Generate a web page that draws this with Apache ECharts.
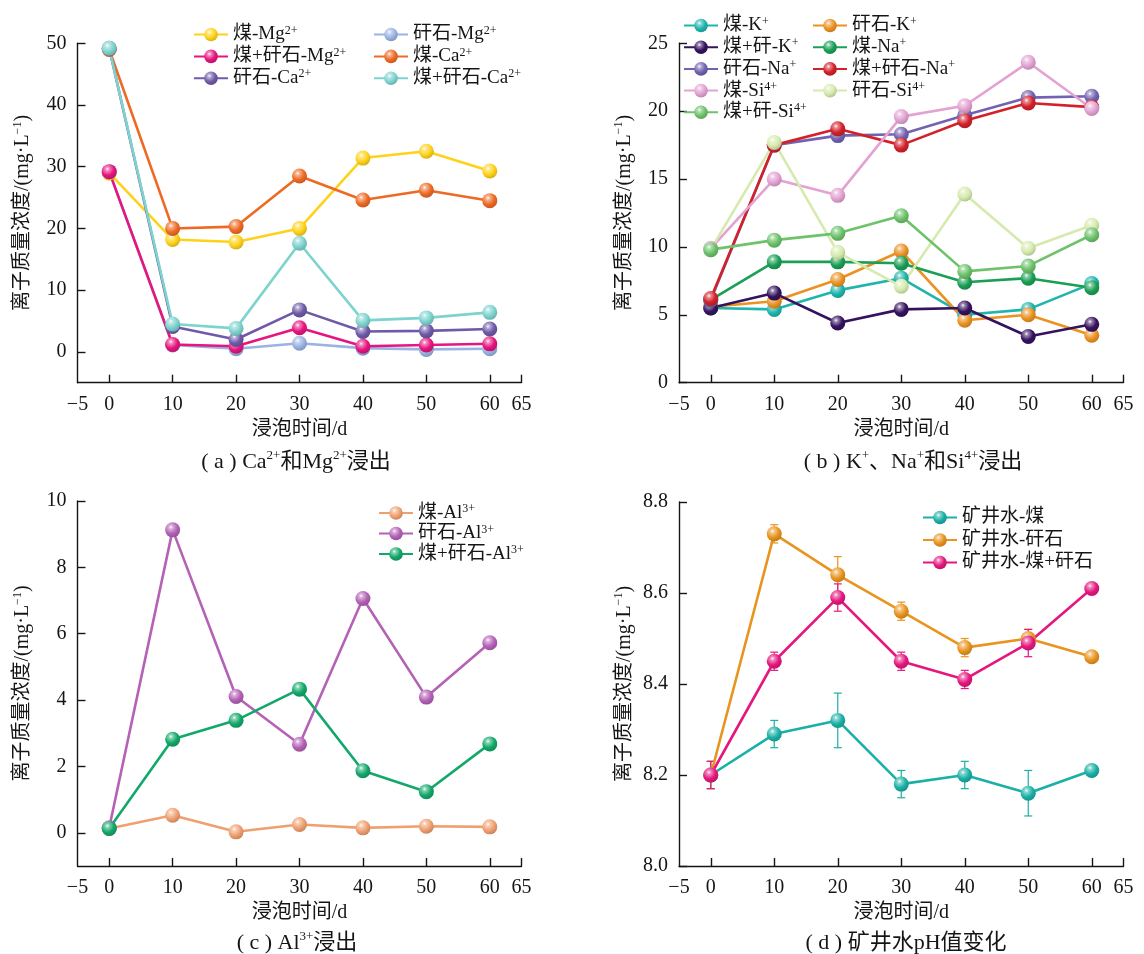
<!DOCTYPE html>
<html><head><meta charset="utf-8">
<script src="https://cdn.jsdelivr.net/npm/echarts@6/dist/echarts.min.js"></script>
<style>html,body{margin:0;padding:0;background:#fff}#c{width:1144px;height:954px}</style>
</head><body><div id="c"></div>
<script>
// ---------- data ----------
const days = [0, 10, 20, 30, 40, 50, 60];
const xLabelValues = [-5, 0, 10, 20, 30, 40, 50, 60, 65];
const xTickValues = [0, 10, 20, 30, 40, 50, 60, 65];

// (a) Ca2+ / Mg2+
const coalMg   = [29.0, 18.2, 17.8, 20.0, 31.4, 32.5, 29.3];
const gangueMg = [29.2, 1.1, 0.5, 1.4, 0.6, 0.4, 0.5];
const mixMg    = [29.2, 1.2, 0.9, 3.9, 0.9, 1.1, 1.3];
const coalCa   = [49.0, 20.0, 20.3, 28.5, 24.6, 26.2, 24.5];
const gangueCa = [49.2, 4.1, 2.0, 6.8, 3.3, 3.4, 3.7];
const mixCa    = [49.2, 4.5, 3.8, 17.6, 5.1, 5.5, 6.4];
const aTicks = [0, 10, 20, 30, 40, 50];

// (b) K+ / Na+ / Si4+
const coalK    = [5.5, 5.4, 6.8, 7.7, 5.0, 5.4, 7.3];
const gangueK  = [5.6, 6.0, 7.6, 9.7, 4.6, 5.0, 3.5];
const mixK     = [5.5, 6.6, 4.4, 5.4, 5.5, 3.4, 4.3];
const coalNa   = [6.1, 8.9, 8.9, 8.8, 7.4, 7.7, 7.0];
const gangueNa = [6.1, 17.5, 18.2, 18.3, 19.7, 21.0, 21.1];
const mixNa    = [6.2, 17.5, 18.7, 17.5, 19.3, 20.6, 20.3];
const coalSi   = [9.9, 15.0, 13.8, 19.6, 20.4, 23.6, 20.2];
const gangueSi = [9.8, 17.7, 9.6, 7.1, 13.9, 9.9, 11.6];
const mixSi    = [9.8, 10.5, 11.0, 12.3, 8.2, 8.6, 10.9];
const bTicks = [0, 5, 10, 15, 20, 25];

// (c) Al3+
const coalAl   = [0.13, 0.53, 0.03, 0.25, 0.15, 0.20, 0.18];
const gangueAl = [0.15, 9.13, 4.11, 2.67, 7.06, 4.09, 5.73];
const mixAl    = [0.13, 2.82, 3.39, 4.33, 1.87, 1.24, 2.68];
const cTicks = [0, 2, 4, 6, 8, 10];

// (d) pH with error
const phCoal      = [8.20, 8.29, 8.32, 8.18, 8.20, 8.16, 8.21];
const phCoalErr   = [0.03, 0.03, 0.06, 0.03, 0.03, 0.05, 0.005];
const phGangue    = [8.20, 8.73, 8.64, 8.56, 8.48, 8.50, 8.46];
const phGangueErr = [0.03, 0.02, 0.04, 0.02, 0.02, 0.02, 0.005];
const phMix       = [8.20, 8.45, 8.59, 8.45, 8.41, 8.49, 8.61];
const phMixErr    = [0.03, 0.02, 0.03, 0.02, 0.02, 0.03, 0.005];
const dTicks = [8.0, 8.2, 8.4, 8.6, 8.8];

// ---------- style helpers ----------
const F = "'Liberation Serif', 'Noto Sans CJK SC', serif";
const INK = '#151515';
function shade(hex, f) {
  const n = parseInt(hex.slice(1), 16);
  let c = [n >> 16, (n >> 8) & 255, n & 255];
  c = c.map(v => f > 0 ? v + (255 - v) * f : v * (1 + f));
  return 'rgb(' + c.map(v => Math.round(v)).join(',') + ')';
}
function ball(c) {
  return { type: 'radial', x: 0.38, y: 0.32, r: 0.78, colorStops: [
    { offset: 0, color: '#ffffff' }, { offset: 0.16, color: shade(c, 0.5) },
    { offset: 0.55, color: c }, { offset: 1, color: shade(c, -0.22) }] };
}
function richName(name) {
  const i = name.indexOf('^');
  if (i < 0) return '{n|' + name + '}';
  return '{n|' + name.slice(0, i) + '}{s|' + name.slice(i + 1) + '}';
}
function richStyles(fs, sfs, lh) {
  return { n: { fontSize: fs, lineHeight: lh, fontFamily: F, color: INK },
           s: { fontSize: sfs, lineHeight: sfs, verticalAlign: 'top', fontFamily: F, color: INK } };
}
function line(name, data, color, gi) {
  return { type: 'line', name, xAxisIndex: gi, yAxisIndex: gi,
    data: days.map((d, i) => [d, data[i]]),
    symbol: 'circle', symbolSize: 15, z: 3,
    lineStyle: { color, width: 2.6 }, itemStyle: { color: ball(color) },
    emphasis: { disabled: true }, animation: false };
}
function errBars(vals, errs, color, gi) {
  return { type: 'custom', xAxisIndex: gi, yAxisIndex: gi, z: 2, animation: false,
    data: days.map((d, i) => [d, vals[i] - errs[i], vals[i] + errs[i]]),
    renderItem: function (params, api) {
      const x = api.value(0);
      const p1 = api.coord([x, api.value(2)]), p2 = api.coord([x, api.value(1)]);
      const w = 4, st = { stroke: color, lineWidth: 1.2 };
      return { type: 'group', children: [
        { type: 'line', shape: { x1: p1[0], y1: p1[1], x2: p2[0], y2: p2[1] }, style: st },
        { type: 'line', shape: { x1: p1[0] - w, y1: p1[1], x2: p1[0] + w, y2: p1[1] }, style: st },
        { type: 'line', shape: { x1: p2[0] - w, y1: p2[1], x2: p2[0] + w, y2: p2[1] }, style: st }] };
    } };
}
const axLine = { show: true, onZero: false, lineStyle: { color: INK, width: 1.4 } };
function xAx(gi) {
  return { type: 'value', gridIndex: gi, min: -5, max: 65,
    axisLine: axLine,
    axisTick: { show: true, inside: true, length: 8, customValues: xTickValues, lineStyle: { color: INK, width: 1.4 } },
    axisLabel: { customValues: xLabelValues, formatter: v => v < 0 ? '\u2212' + Math.abs(v) : String(v),
      margin: 12, fontSize: 20, color: INK, fontFamily: F },
    splitLine: { show: false },
    name: '浸泡时间/d', nameLocation: 'middle', nameGap: 37,
    nameTextStyle: { fontSize: 20, color: INK, fontFamily: F } };
}
function yAx(gi, min, max, ticks, dec) {
  return { type: 'value', gridIndex: gi, min, max,
    axisLine: axLine,
    axisTick: { show: true, inside: true, length: 8, customValues: ticks, lineStyle: { color: INK, width: 1.4 } },
    axisLabel: { customValues: ticks, formatter: v => v.toFixed(dec), margin: 11, fontSize: 20, color: INK, fontFamily: F },
    splitLine: { show: false },
    name: '{n|离子质量浓度/(mg·L}{s|\u22121}{n|)}', nameLocation: 'middle', nameGap: 43,
    nameTextStyle: { fontSize: 20, color: INK, fontFamily: F, rich: richStyles(20, 12, 23) } };
}
function leg(data, left, top, gap) {
  return { data, left, top, orient: 'vertical', itemWidth: 34, itemHeight: 17, itemGap: gap,
    selectedMode: false, formatter: richName, padding: 0,
    textStyle: { fontFamily: F, fontSize: 19, color: INK, rich: richStyles(19, 12, 20) } };
}
function caption(text, x, y) {
  return { type: 'text', x, y, z: 10,
    style: { text, fontFamily: F, fontSize: 22, fill: INK, align: 'center', verticalAlign: 'middle',
      rich: { n: { fontSize: 22, lineHeight: 26, fontFamily: F, fill: INK, color: INK },
              s: { fontSize: 13, lineHeight: 13, verticalAlign: 'top', fontFamily: F, fill: INK, color: INK } } } };
}

// colors
const C = {
  coalMg: '#FFD21A', gangueMg: '#9AB3E2', mixMg: '#E6157F', coalCa: '#EE6A24', gangueCa: '#6F5AA8', mixCa: '#7DD3CE',
  coalK: '#1FB5AC', gangueK: '#EB9222', mixK: '#35125E', coalNa: '#1A9F55', gangueNa: '#7262B0', mixNa: '#D3212A',
  coalSi: '#E3A2D2', gangueSi: '#D6EAAE', mixSi: '#6DC26A',
  coalAl: '#F0A070', gangueAl: '#B461B6', mixAl: '#12A86A',
  phCoal: '#1AB0A6', phGangue: '#E8941E', phMix: '#E5177F'
};

const option = {
  backgroundColor: '#fff',
  animation: false,
  grid: [
    { left: 77.5, top: 43.3, width: 444, height: 339.4 },
    { left: 679, top: 43.3, width: 444.5, height: 339.4 },
    { left: 77.5, top: 501, width: 444, height: 365 },
    { left: 679, top: 502, width: 444.5, height: 364 }
  ],
  xAxis: [xAx(0), xAx(1), xAx(2), xAx(3)],
  yAxis: [yAx(0, -5, 50, aTicks, 0), yAx(1, 0, 25, bTicks, 0), yAx(2, -1, 10, cTicks, 0), yAx(3, 8.0, 8.8, dTicks, 1)],
  legend: [
    leg(['煤-Mg^2+', '煤+矸石-Mg^2+', '矸石-Ca^2+'], 193, 24.5, 2.4),
    leg(['矸石-Mg^2+', '煤-Ca^2+', '煤+矸石-Ca^2+'], 373, 24.5, 2.4),
    leg(['煤-K^+', '煤+矸-K^+', '矸石-Na^+', '煤-Si^4+', '煤+矸-Si^4+'], 683, 15.5, 2.2),
    leg(['矸石-K^+', '煤-Na^+', '煤+矸石-Na^+', '矸石-Si^4+'], 812, 15.5, 2.2),
    leg(['煤-Al^3+', '矸石-Al^3+', '煤+矸石-Al^3+'], 378, 503, 1),
    leg(['矿井水-煤', '矿井水-矸石', '矿井水-煤+矸石'], 922, 508, 3.5)
  ],
  graphic: [
    caption('{n|( a ) Ca}{s|2+}{n|和Mg}{s|2+}{n|浸出}', 296, 462),
    caption('{n|( b ) K}{s|+}{n|、Na}{s|+}{n|和Si}{s|4+}{n|浸出}', 913, 462),
    caption('{n|( c ) Al}{s|3+}{n|浸出}', 297, 943),
    caption('{n|( d ) 矿井水pH值变化}', 906, 943)
  ],
  series: [
    line('煤-Mg^2+', coalMg, C.coalMg, 0),
    line('矸石-Mg^2+', gangueMg, C.gangueMg, 0),
    line('煤+矸石-Mg^2+', mixMg, C.mixMg, 0),
    line('煤-Ca^2+', coalCa, C.coalCa, 0),
    line('矸石-Ca^2+', gangueCa, C.gangueCa, 0),
    line('煤+矸石-Ca^2+', mixCa, C.mixCa, 0),

    line('煤-K^+', coalK, C.coalK, 1),
    line('矸石-K^+', gangueK, C.gangueK, 1),
    line('煤+矸-K^+', mixK, C.mixK, 1),
    line('煤-Na^+', coalNa, C.coalNa, 1),
    line('矸石-Na^+', gangueNa, C.gangueNa, 1),
    line('煤+矸石-Na^+', mixNa, C.mixNa, 1),
    line('煤-Si^4+', coalSi, C.coalSi, 1),
    line('矸石-Si^4+', gangueSi, C.gangueSi, 1),
    line('煤+矸-Si^4+', mixSi, C.mixSi, 1),

    line('煤-Al^3+', coalAl, C.coalAl, 2),
    line('矸石-Al^3+', gangueAl, C.gangueAl, 2),
    line('煤+矸石-Al^3+', mixAl, C.mixAl, 2),

    errBars(phCoal, phCoalErr, C.phCoal, 3),
    errBars(phGangue, phGangueErr, C.phGangue, 3),
    errBars(phMix, phMixErr, C.phMix, 3),
    line('矿井水-煤', phCoal, C.phCoal, 3),
    line('矿井水-矸石', phGangue, C.phGangue, 3),
    line('矿井水-煤+矸石', phMix, C.phMix, 3)
  ]
};
const chart = echarts.init(document.getElementById('c'), null, { renderer: 'canvas' });
chart.setOption(option);
</script></body></html>
